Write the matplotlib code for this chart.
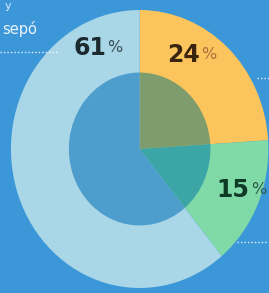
import matplotlib
matplotlib.use('Agg')
import matplotlib.pyplot as plt

# Share of each slice (percent), clockwise from 12 o'clock
labels = ['24', '15', '61']
shares = [24, 15, 61]
ring_colors = ['#fcc45c', '#80daa8', '#a9d7e7']
hole_colors = ['#7f9d6c', '#3ca6a6', '#4d9dcd']
text_colors = ['#3a2410', '#0f3a26', '#1b2a2e']
pct_colors = ['#a8703f', '#2c5a48', '#3b4d55']

BG = '#3c97d9'

fig = plt.figure(figsize=(2.69, 2.93), dpi=100)
fig.patch.set_facecolor(BG)
ax = fig.add_axes([0, 0, 1, 1])
ax.set_facecolor(BG)

# outer ring and tinted hole
ax.pie(shares, colors=ring_colors, startangle=90, counterclock=False,
       radius=1.0, wedgeprops=dict(linewidth=0))
ax.pie(shares, colors=hole_colors, startangle=90, counterclock=False,
       radius=0.55, wedgeprops=dict(linewidth=0))

# source image is stretched a bit vertically, so no equal aspect
ax.set_aspect('auto')
ax.set_xlim(-1.085, 1.005)
ax.set_ylim(-1.036, 1.072)
ax.axis('off')

# label anchors (split point between digits and the % sign)
label_pos = [(0.465, 0.676), (0.855, -0.295), (-0.26, 0.727)]
for lab, (x, y), c, pc in zip(labels, label_pos, text_colors, pct_colors):
    ax.text(x, y, lab, ha='right', va='center', fontsize=17,
            fontweight='heavy', color=c)
    ax.text(x + 0.01, y + 0.005, '%', ha='left', va='center', fontsize=11.5,
            color=pc)

# leader lines from the rest of the infographic
dot = dict(color='white', linestyle=(0, (1, 1.5)), linewidth=1, alpha=0.85)
ax.plot([-1.085, -0.64], [0.698, 0.698], **dot)
ax.plot([0.913, 1.03], [0.511, 0.511], **dot)
ax.plot([0.756, 1.03], [-0.669, -0.669], **dot)

# cropped text fragments at the top-left
ax.text(-1.07, 0.86, 'sepó', ha='left', va='center', fontsize=10.5,
        color='white', alpha=0.9)
ax.text(-1.05, 1.068, 'y', ha='left', va='top', fontsize=8,
        color='white', alpha=0.8)

fig.savefig('out.png', dpi=100, facecolor=BG)
